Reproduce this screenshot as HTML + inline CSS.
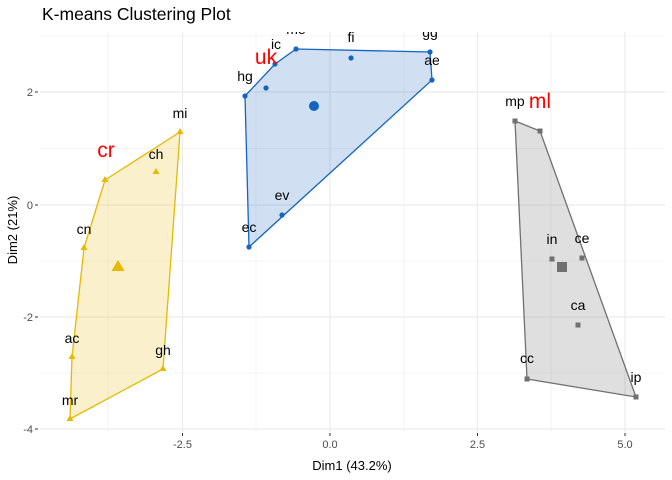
<!DOCTYPE html>
<html><head><meta charset="utf-8"><style>body{margin:0;background:#fff}svg{display:block;font-family:"Liberation Sans",sans-serif}</style></head><body>
<svg width="672" height="480" viewBox="0 0 672 480">
<rect width="672" height="480" fill="#fff"/>
<defs><clipPath id="p"><rect x="40" y="32" width="625" height="400"/></clipPath></defs>
<g stroke="#ebebeb" stroke-width="0.6">
<line x1="40" x2="665" y1="148.5" y2="148.5"/><line x1="40" x2="665" y1="261" y2="261"/><line x1="40" x2="665" y1="373" y2="373"/><line x1="40" x2="665" y1="36" y2="36"/>
<line y1="32" y2="432" x1="108" x2="108"/><line y1="32" y2="432" x1="256" x2="256"/><line y1="32" y2="432" x1="404" x2="404"/><line y1="32" y2="432" x1="551" x2="551"/>
</g>
<g stroke="#ebebeb" stroke-width="1.2">
<line x1="40" x2="665" y1="92" y2="92"/><line x1="40" x2="665" y1="205" y2="205"/><line x1="40" x2="665" y1="317" y2="317"/><line x1="40" x2="665" y1="429" y2="429"/>
<line y1="32" y2="432" x1="182.5" x2="182.5"/><line y1="32" y2="432" x1="330" x2="330"/><line y1="32" y2="432" x1="477.5" x2="477.5"/><line y1="32" y2="432" x1="625" x2="625"/>
</g>
<g clip-path="url(#p)">
<polygon points="180,132 105,180 84,248 72,357 70,419 163,369" fill="#E7B800" fill-opacity="0.2" stroke="#E7B800" stroke-width="1.3"/>
<polygon points="245,96 275,64 296,49 430,52 432,80 249,247" fill="#1565C0" fill-opacity="0.2" stroke="#1565C0" stroke-width="1.3"/>
<polygon points="515,121 540,131 636,397 527,379" fill="#808080" fill-opacity="0.25" stroke="#707070" stroke-width="1.3"/>
<g fill="#E7B800">
<path d="M180,128l3.5,6h-7z"/><path d="M105,176l3.5,6h-7z"/><path d="M156,168l3.5,6h-7z"/><path d="M84,244l3.5,6h-7z"/><path d="M72,353l3.5,6h-7z"/><path d="M70,415l3.5,6h-7z"/><path d="M163,365l3.5,6h-7z"/><path d="M118,260l6.5,11h-13z"/>
</g>
<g fill="#1565C0">
<circle cx="245" cy="96" r="2.6"/><circle cx="275" cy="64" r="2.6"/><circle cx="266" cy="88" r="2.6"/><circle cx="296" cy="49" r="2.6"/><circle cx="351" cy="58" r="2.6"/><circle cx="430" cy="52" r="2.6"/><circle cx="432" cy="80" r="2.6"/><circle cx="282" cy="215" r="2.6"/><circle cx="249" cy="247" r="2.6"/><circle cx="314" cy="106" r="5"/>
</g>
<g fill="#707070">
<rect x="512.5" y="118.5" width="5" height="5"/><rect x="537.5" y="128.5" width="5" height="5"/><rect x="549.5" y="256.5" width="5" height="5"/><rect x="579.5" y="255.5" width="5" height="5"/><rect x="575.5" y="322.5" width="5" height="5"/><rect x="524.5" y="376.5" width="5" height="5"/><rect x="633.5" y="394.5" width="5" height="5"/><rect x="557" y="262" width="10" height="10"/>
</g>
<g font-size="14" fill="#000" text-anchor="middle">
<text x="180" y="118">mi</text><text x="156" y="159">ch</text><text x="84" y="234">cn</text><text x="72" y="343">ac</text><text x="70" y="405">mr</text><text x="163" y="355">gh</text>
<text x="245" y="81">hg</text><text x="276" y="49">ic</text><text x="296" y="34">me</text><text x="351" y="42">fi</text><text x="430" y="37">gg</text><text x="432" y="65">ae</text><text x="282" y="200">ev</text><text x="249" y="232">ec</text>
<text x="515" y="106">mp</text><text x="552" y="244">in</text><text x="582" y="243">ce</text><text x="578" y="310">ca</text><text x="527" y="363">cc</text><text x="636" y="382">ip</text>
</g>
<g font-size="21" fill="#f00" text-anchor="middle">
<text x="106" y="157">cr</text><text x="266" y="64">uk</text><text x="540" y="108">ml</text>
</g>
</g>
<g font-size="11" fill="#4d4d4d" text-anchor="end">
<text x="33" y="96">2</text><text x="33" y="209">0</text><text x="33" y="321">-2</text><text x="33" y="433">-4</text>
</g>
<g stroke="#333" stroke-width="1"><line x1="35" x2="38" y1="92" y2="92"/><line x1="35" x2="38" y1="205" y2="205"/><line x1="35" x2="38" y1="317" y2="317"/><line x1="35" x2="38" y1="429" y2="429"/>
<line x1="182.5" x2="182.5" y1="433" y2="436"/><line x1="330" x2="330" y1="433" y2="436"/><line x1="477.5" x2="477.5" y1="433" y2="436"/><line x1="625" x2="625" y1="433" y2="436"/></g>
<g font-size="11" fill="#4d4d4d" text-anchor="middle">
<text x="182.5" y="448">-2.5</text><text x="330" y="448">0.0</text><text x="477.5" y="448">2.5</text><text x="625" y="448">5.0</text>
</g>
<text x="352" y="470" font-size="13" text-anchor="middle">Dim1 (43.2%)</text>
<text transform="translate(17,230) rotate(-90)" font-size="13" text-anchor="middle">Dim2 (21%)</text>
<text x="42" y="20" font-size="17.5">K-means Clustering Plot</text>
</svg>
</body></html>
